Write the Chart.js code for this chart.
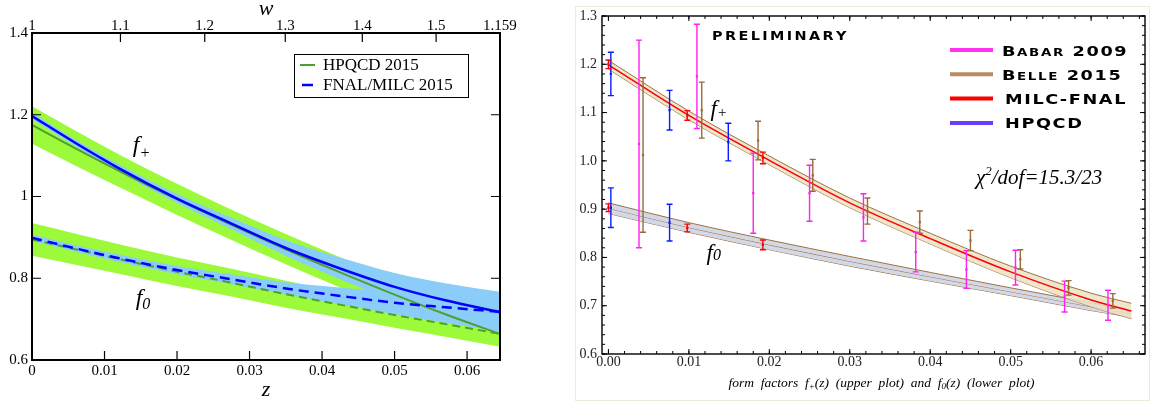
<!DOCTYPE html>
<html>
<head>
<meta charset="utf-8">
<script src="https://cdn.jsdelivr.net/npm/chart.js@4.4.1/dist/chart.umd.min.js"></script>
<style>
  html, body { margin: 0; padding: 0; background: #fff; }
  #wrap { position: relative; width: 1153px; height: 403px; overflow: hidden; }
  #left { position: absolute; left: 0; top: 0; width: 520px; height: 403px; }
  #right { position: absolute; left: 560px; top: 0; width: 593px; height: 403px; }
  #frame { position: absolute; left: 575px; top: 6px; width: 573px; height: 393px; border: 1px solid #efeadb; }
</style>
</head>
<body>
<div id="wrap">
  <div id="frame"></div>
  <div id="left"><canvas id="leftChart"></canvas></div>
  <div id="right"><canvas id="rightChart"></canvas></div>
</div>
<script>
// ---- left panel: lattice form factors vs z ----
const zGrid = [0, 0.006, 0.012, 0.02, 0.027, 0.035, 0.042, 0.05, 0.057, 0.0645];
const hpqcdFplus = [1.175, 1.118, 1.063, 0.993, 0.935, 0.871, 0.818, 0.76, 0.712, 0.664];
const hpqcdFplusErr = [0.046, 0.043, 0.04, 0.038, 0.037, 0.037, 0.037, 0.035, 0.033, 0.031];
const hpqcdFzero = [0.895, 0.871, 0.847, 0.816, 0.791, 0.761, 0.737, 0.71, 0.688, 0.664];
const hpqcdFzeroErr = [0.04, 0.038, 0.036, 0.035, 0.034, 0.033, 0.032, 0.031, 0.031, 0.031];
const fnalFplus = [1.197, 1.131, 1.069, 0.995, 0.938, 0.874, 0.827, 0.779, 0.746, 0.717];
const fnalFplusErr = [0.008, 0.008, 0.009, 0.011, 0.014, 0.019, 0.026, 0.034, 0.042, 0.05];
const fnalFzero = [0.899, 0.873, 0.849, 0.82, 0.799, 0.775, 0.758, 0.74, 0.729, 0.718];
const fnalFzeroErr = [0.008, 0.008, 0.009, 0.01, 0.012, 0.015, 0.02, 0.028, 0.038, 0.049];

const leftXTicks = ['0', '0.01', '0.02', '0.03', '0.04', '0.05', '0.06'];
const leftYTicks = ['0.6', '0.8', '1', '1.2', '1.4'];
const wTicks = [1, 1.1, 1.2, 1.3, 1.4, 1.5, 1.59];
const wTickLabels = ['1', '1.1', '1.2', '1.3', '1.4', '1.5', '1.159'];
const leftLegend = ['HPQCD 2015', 'FNAL/MILC 2015'];

// ---- right panel: fit to experiment + lattice ----
const zFit = [0, 0.01, 0.02, 0.03, 0.04, 0.05, 0.06, 0.065];
const fitFplus = [1.199, 1.094, 1.001, 0.913, 0.839, 0.77, 0.712, 0.689];
const fitFplusErr = [0.009, 0.009, 0.009, 0.01, 0.011, 0.012, 0.014, 0.016];
const fitFzero = [0.902, 0.862, 0.826, 0.792, 0.76, 0.729, 0.698, 0.683];
const fitFzeroErr = [0.011, 0.01, 0.01, 0.01, 0.009, 0.008, 0.008, 0.007];

const babarZ = [0.0038, 0.011, 0.018, 0.025, 0.0317, 0.0382, 0.0445, 0.0506, 0.0567, 0.0621];
const babarF = [1.035, 1.175, 0.933, 0.933, 0.883, 0.811, 0.775, 0.779, 0.719, 0.701];
const babarErr = [0.215, 0.108, 0.083, 0.058, 0.049, 0.041, 0.039, 0.036, 0.032, 0.031];
const belleZ = [0.0043, 0.0116, 0.0186, 0.0254, 0.0322, 0.0387, 0.045, 0.0512, 0.0572, 0.0627];
const belleF = [1.012, 1.105, 1.042, 0.97, 0.896, 0.873, 0.835, 0.796, 0.737, 0.71];
const belleErr = [0.16, 0.058, 0.04, 0.033, 0.027, 0.023, 0.021, 0.02, 0.015, 0.015];
const milcZ = [0, 0.0098, 0.0192];
const milcFplus = [1.2, 1.094, 1.006];
const milcFplusErr = [0.009, 0.01, 0.012];
const milcFzero = [0.903, 0.861, 0.826];
const milcFzeroErr = [0.008, 0.008, 0.01];
const hpqcdZ = [0.0003, 0.0076, 0.0149];
const hpqcdPtsFplus = [1.18, 1.105, 1.039];
const hpqcdPtsFplusErr = [0.045, 0.041, 0.039];
const hpqcdPtsFzero = [0.903, 0.872];
const hpqcdPtsFzeroErr = [0.041, 0.038];

const rightXTicks = ['0.00', '0.01', '0.02', '0.03', '0.04', '0.05', '0.06'];
const rightYTicks = ['0.6', '0.7', '0.8', '0.9', '1.0', '1.1', '1.2', '1.3'];
const rightLegend = ['Babar 2009', 'Belle 2015', 'MILC-FNAL', 'HPQCD'];
const rightLegendColors = ['#ff33f0', '#b98c62', '#ff0000', '#6a3cff'];

const serif = '"Liberation Serif", "DejaVu Serif", serif';
const sans = '"DejaVu Sans", sans-serif';

function pts(zs, ys, err, k) {
    return zs.map((z, i) => ({ x: z, y: ys[i] + (err ? k * err[i] : 0) }));
}

// z as a function of w, for the top axis
function zOfW(w) {
    const a = Math.sqrt(w + 1), b = Math.sqrt(2);
    return (a - b) / (a + b);
}

// frame and inward tick marks
const frameTicks = {
    id: 'frameTicks',
    afterDraw(chart, args, o) {
        const { ctx, chartArea: a, scales } = chart;
        const xs = scales.x, ys = scales.y, top = scales.x2 || xs;
        ctx.save();
        ctx.strokeStyle = '#000';
        ctx.lineWidth = o.tickWidth;
        ctx.beginPath();
        const xMark = (scale, v, len) => {
            const p = scale.getPixelForValue(v);
            ctx.moveTo(p, a.bottom); ctx.lineTo(p, a.bottom - len);
            if (!scales.x2) { ctx.moveTo(p, a.top); ctx.lineTo(p, a.top + len); }
        };
        const yMark = (v, len) => {
            const p = ys.getPixelForValue(v);
            ctx.moveTo(a.left, p); ctx.lineTo(a.left + len, p);
            ctx.moveTo(a.right, p); ctx.lineTo(a.right - len, p);
        };
        xs.ticks.forEach(t => xMark(xs, t.value, o.major));
        ys.ticks.forEach(t => yMark(t.value, o.major));
        if (scales.x2) {
            scales.x2.ticks.forEach(t => {
                const p = top.getPixelForValue(t.value);
                ctx.moveTo(p, a.top); ctx.lineTo(p, a.top + o.major);
            });
        }
        if (o.xMinor) {
            for (let v = Math.ceil(xs.min / o.xMinor) * o.xMinor; v <= xs.max; v += o.xMinor) xMark(xs, v, o.minor);
            for (let v = Math.ceil(ys.min / o.yMinor) * o.yMinor; v <= ys.max + 1e-9; v += o.yMinor) yMark(v, o.minor);
        }
        ctx.stroke();
        ctx.lineWidth = o.frameWidth;
        ctx.strokeRect(a.left, a.top, a.right - a.left, a.bottom - a.top);
        ctx.restore();
    }
};

// draws pieces of italic text with sub/superscripts
function drawParts(ctx, parts, x, y, align) {
    let w = 0;
    parts.forEach(p => { ctx.font = `italic ${p[1]}px ${serif}`; w += ctx.measureText(p[0]).width; });
    let cx = align === 'center' ? x - w / 2 : x;
    ctx.textAlign = 'left';
    ctx.textBaseline = 'alphabetic';
    parts.forEach(p => {
        ctx.font = `italic ${p[1]}px ${serif}`;
        ctx.fillText(p[0], cx, y + p[2]);
        cx += ctx.measureText(p[0]).width;
    });
}

function drawSmallCaps(ctx, text, x, y, big, small, spacing, stretch) {
    ctx.save();
    ctx.translate(x, y);
    ctx.scale(stretch, 1);
    ctx.textAlign = 'left';
    ctx.textBaseline = 'alphabetic';
    let cx = 0;
    for (const ch of text) {
        const lower = ch !== ch.toUpperCase();
        ctx.font = `bold ${lower ? small : big}px ${sans}`;
        const c = ch.toUpperCase();
        ctx.fillText(c, cx, 0);
        cx += ctx.measureText(c).width + spacing / stretch;
    }
    ctx.restore();
}

const leftNotes = {
    id: 'leftNotes',
    afterDraw(chart) {
        const { ctx, chartArea: a, scales: { x, y } } = chart;
        ctx.save();
        ctx.fillStyle = '#000';
        drawParts(ctx, [['f', 24, 0], ['+', 16, 6]], x.getPixelForValue(0.0139), y.getPixelForValue(1.109));
        drawParts(ctx, [['f', 24, 0], ['0', 16, 4]], x.getPixelForValue(0.0143), y.getPixelForValue(0.735));
        // legend box
        const bx = a.right - 206, by = a.top + 21;
        ctx.fillStyle = '#fff';
        ctx.fillRect(bx, by, 174, 43);
        ctx.strokeStyle = '#000';
        ctx.lineWidth = 1;
        ctx.strokeRect(bx + 0.5, by + 0.5, 174, 43);
        ctx.lineWidth = 2;
        ctx.strokeStyle = '#4f9f2c';
        ctx.beginPath(); ctx.moveTo(bx + 6, by + 11); ctx.lineTo(bx + 21, by + 11); ctx.stroke();
        ctx.lineWidth = 2.5;
        ctx.strokeStyle = '#0000ff';
        ctx.beginPath(); ctx.moveTo(bx + 8, by + 31); ctx.lineTo(bx + 19, by + 31); ctx.stroke();
        ctx.fillStyle = '#000';
        ctx.font = `17px ${serif}`;
        ctx.textBaseline = 'middle';
        ctx.textAlign = 'left';
        ctx.fillText(leftLegend[0], bx + 29, by + 12);
        ctx.fillText(leftLegend[1], bx + 29, by + 32);
        ctx.restore();
    }
};

const band = (data, color, fill, order) => ({
    data, fill, backgroundColor: color, borderWidth: 0, pointRadius: 0,
    cubicInterpolationMode: 'monotone', order
});
const curve = (data, color, width, dash, order) => ({
    data, fill: false, borderColor: color, borderWidth: width, borderDash: dash,
    pointRadius: 0, cubicInterpolationMode: 'monotone', order
});

const lime = '#9cfa3a', skyBlue = '#89cdf8', green = '#4f9f2c', blue = '#0000ff';

new Chart(document.getElementById('leftChart'), {
    type: 'line',
    data: {
        datasets: [
            band(pts(zGrid, hpqcdFplus, hpqcdFplusErr, 1), lime, '+1', 40),
            band(pts(zGrid, hpqcdFplus, hpqcdFplusErr, -1), lime, false, 40),
            band(pts(zGrid, hpqcdFzero, hpqcdFzeroErr, 1), lime, '+1', 40),
            band(pts(zGrid, hpqcdFzero, hpqcdFzeroErr, -1), lime, false, 40),
            band(pts(zGrid, fnalFplus, fnalFplusErr, 1), skyBlue, '+1', 30),
            band(pts(zGrid, fnalFplus, fnalFplusErr, -1), skyBlue, false, 30),
            band(pts(zGrid, fnalFzero, fnalFzeroErr, 1), skyBlue, '+1', 30),
            band(pts(zGrid, fnalFzero, fnalFzeroErr, -1), skyBlue, false, 30),
            curve(pts(zGrid, hpqcdFplus), green, 2, [], 20),
            curve(pts(zGrid, hpqcdFzero), green, 2, [8, 5], 20),
            curve(pts(zGrid, fnalFplus), blue, 2.5, [], 10),
            curve(pts(zGrid, fnalFzero), blue, 2.5, [10, 6], 10)
        ]
    },
    options: {
        responsive: true,
        maintainAspectRatio: false,
        animation: false,
        devicePixelRatio: 1,
        layout: { padding: { right: 20 } },
        plugins: {
            legend: { display: false },
            tooltip: { enabled: false },
            frameTicks: { major: 9, tickWidth: 1.2, frameWidth: 2 }
        },
        scales: {
            x: {
                type: 'linear', position: 'bottom', min: 0, max: 0.06454,
                grid: { display: false, drawTicks: false }, border: { display: false },
                ticks: {
                    stepSize: 0.01, includeBounds: false, autoSkip: false, maxRotation: 0, padding: 2,
                    color: '#000', font: { family: serif, size: 15 },
                    callback: (v, i) => leftXTicks[i]
                },
                title: { display: true, text: 'z', color: '#000', padding: { top: 0, bottom: 2 },
                    font: { family: serif, size: 22, style: 'italic', lineHeight: 1 } },
                afterFit: s => { s.height = 43; }
            },
            x2: {
                type: 'linear', position: 'top', min: 0, max: 0.06454,
                grid: { display: false, drawTicks: false }, border: { display: false },
                afterBuildTicks: s => { s.ticks = wTicks.map(w => ({ value: zOfW(w) })); },
                ticks: {
                    autoSkip: false, maxRotation: 0, padding: -2,
                    color: '#000', font: { family: serif, size: 15 },
                    callback: (v, i) => wTickLabels[i]
                },
                title: { display: true, text: 'w', color: '#000', padding: { top: 4, bottom: 0 },
                    font: { family: serif, size: 22, style: 'italic', lineHeight: 0.5 } },
                afterFit: s => { s.height = 33; }
            },
            y: {
                type: 'linear', min: 0.6, max: 1.4,
                grid: { display: false, drawTicks: false }, border: { display: false },
                ticks: {
                    stepSize: 0.2, autoSkip: false, padding: 4,
                    color: '#000', font: { family: serif, size: 15 },
                    callback: (v, i) => leftYTicks[i]
                },
                afterFit: s => { s.width = 32; }
            }
        }
    },
    plugins: [frameTicks, leftNotes]
});

// ---- right chart ----
const errorBars = {
    id: 'errorBars',
    afterDatasetsDraw(chart) {
        const { ctx, scales: { x, y } } = chart;
        chart.data.datasets.forEach(ds => {
            if (!ds.errorBars) return;
            ctx.save();
            ctx.strokeStyle = ds.borderColor;
            ctx.lineWidth = 1.4;
            ds.data.forEach((p, i) => {
                const px = x.getPixelForValue(p.x);
                const hi = y.getPixelForValue(p.y + ds.errorBars[i]);
                const lo = y.getPixelForValue(p.y - ds.errorBars[i]);
                ctx.beginPath();
                ctx.moveTo(px, hi); ctx.lineTo(px, lo);
                ctx.moveTo(px - 3, hi); ctx.lineTo(px + 3, hi);
                ctx.moveTo(px - 3, lo); ctx.lineTo(px + 3, lo);
                ctx.stroke();
            });
            ctx.restore();
        });
    }
};

const rightNotes = {
    id: 'rightNotes',
    afterDraw(chart) {
        const { ctx, chartArea: a, scales: { x, y } } = chart;
        ctx.save();
        ctx.fillStyle = '#000';
        drawParts(ctx, [['f', 23, 0], ['+', 15, 1]], x.getPixelForValue(0.0127), y.getPixelForValue(1.092));
        drawParts(ctx, [['f', 23, 0], ['0', 16, 0]], x.getPixelForValue(0.0122), y.getPixelForValue(0.794));
        drawParts(ctx, [['χ', 21, 0], ['2', 13, -9], ['/dof=15.3/23', 21, 0]], a.left + 374, a.top + 168);
        drawParts(ctx, [['form  factors  f', 13.5, 0], ['+', 9, 2], ['(z)  (upper  plot)  and  f', 13.5, 0],
            ['0', 9, 2], ['(z)  (lower  plot)', 13.5, 0]], (a.left + a.right) / 2 + 8, a.bottom + 33, 'center');
        drawSmallCaps(ctx, 'PRELIMINARY', a.left + 110, a.top + 24, 12, 12, 2.4, 1.2);
        rightLegend.forEach((t, i) => {
            const ly = a.top + 34 + i * 24.3;
            ctx.strokeStyle = rightLegendColors[i];
            ctx.lineWidth = 4;
            ctx.beginPath(); ctx.moveTo(a.left + 348, ly); ctx.lineTo(a.left + 391, ly); ctx.stroke();
            ctx.fillStyle = '#000';
            drawSmallCaps(ctx, t, a.left + 400 + (i > 1 ? 3 : 0), ly + 5.5, 14.5, 11, 1.6, 1.22);
        });
        ctx.restore();
    }
};

const brown = '#a0713f';
const edge = (data, fill, color, lineColor, width, order) => ({
    data, fill, backgroundColor: color, borderColor: lineColor, borderWidth: width,
    pointRadius: 0, cubicInterpolationMode: 'monotone', order
});
const marks = (data, err, color, order) => ({
    data, errorBars: err, showLine: false, borderColor: color, backgroundColor: color,
    pointRadius: 1.6, pointStyle: 'rect', pointBorderWidth: 0, order
});

new Chart(document.getElementById('rightChart'), {
    type: 'line',
    data: {
        datasets: [
            edge(pts(zFit, fitFzero, fitFzeroErr, 1), '+1', '#d3d8e7', brown, 1, 50),
            edge(pts(zFit, fitFzero), '+1', '#d3d8e7', brown, 1, 50),
            edge(pts(zFit, fitFzero, fitFzeroErr, -1), false, '#d3d8e7', brown, 1, 50),
            edge(pts(zFit, fitFplus, fitFplusErr, 1), '+1', 'rgba(236,226,198,0.85)', brown, 1, 40),
            edge(pts(zFit, fitFplus, fitFplusErr, -1), false, 'rgba(236,226,198,0.85)', brown, 1, 40),
            edge(pts(zFit, fitFplus), false, 'transparent', '#ff0000', 1.5, 30),
            marks(pts(babarZ, babarF), babarErr, '#ff22ee', 20),
            marks(pts(belleZ, belleF), belleErr, '#9b6a3a', 20),
            marks(pts(hpqcdZ, hpqcdPtsFplus), hpqcdPtsFplusErr, '#0a1cff', 15),
            marks(pts(hpqcdZ.slice(0, 2), hpqcdPtsFzero), hpqcdPtsFzeroErr, '#0a1cff', 15),
            marks(pts(milcZ, milcFplus), milcFplusErr, '#ff0000', 10),
            marks(pts(milcZ, milcFzero), milcFzeroErr, '#ff0000', 10)
        ]
    },
    options: {
        responsive: true,
        maintainAspectRatio: false,
        animation: false,
        devicePixelRatio: 1,
        layout: { padding: { top: 16, right: 8 } },
        plugins: {
            legend: { display: false },
            tooltip: { enabled: false },
            frameTicks: { major: 5, minor: 3, xMinor: 0.002, yMinor: 0.02, tickWidth: 1, frameWidth: 1.4 }
        },
        scales: {
            x: {
                type: 'linear', position: 'bottom', min: -0.0008, max: 0.0667,
                grid: { display: false, drawTicks: false }, border: { display: false },
                ticks: {
                    stepSize: 0.01, includeBounds: false, autoSkip: false, maxRotation: 0, padding: 0,
                    color: '#222', font: { family: serif, size: 14 },
                    callback: (v, i) => rightXTicks[i]
                },
                afterFit: s => { s.height = 49; }
            },
            y: {
                type: 'linear', min: 0.6, max: 1.3,
                grid: { display: false, drawTicks: false }, border: { display: false },
                ticks: {
                    stepSize: 0.1, includeBounds: false, autoSkip: false, padding: 5,
                    color: '#222', font: { family: serif, size: 14 },
                    callback: (v, i) => rightYTicks[i]
                },
                afterFit: s => { s.width = 42; }
            }
        }
    },
    plugins: [frameTicks, errorBars, rightNotes]
});
</script>
</body>
</html>
